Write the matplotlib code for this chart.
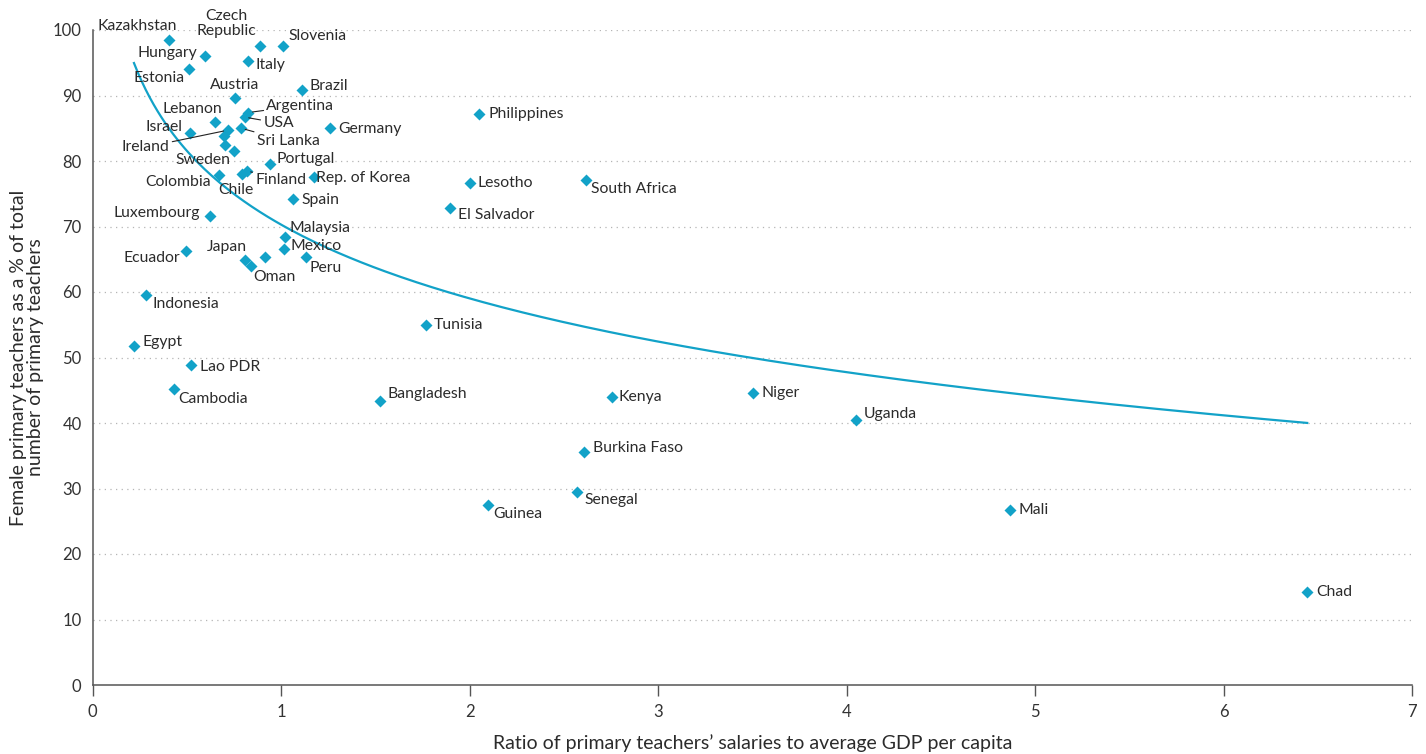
import numpy as np
import matplotlib
matplotlib.use("Agg")
import matplotlib.pyplot as plt

# ---------------- data ----------------
countries = ["Kazakhstan", "Czech\nRepublic", "Slovenia", "Hungary", "Estonia", "Italy",
             "Austria", "Brazil", "Lebanon", "Argentina", "USA", "Israel", "Sri Lanka",
             "Ireland", "Germany", "Sweden", "", "", "Portugal", "Colombia", "Chile",
             "Finland", "Rep. of Korea", "Spain", "Luxembourg", "Malaysia", "Mexico",
             "Ecuador", "", "Japan", "Peru", "Oman", "Indonesia", "Egypt", "Lao PDR",
             "Cambodia", "Bangladesh", "Philippines", "Lesotho", "South Africa",
             "El Salvador", "Tunisia", "Kenya", "Niger", "Uganda", "Burkina Faso",
             "Senegal", "Guinea", "Mali", "Chad"]
salary_ratio = [0.405, 0.889, 1.010, 0.595, 0.512, 0.824,
                0.753, 1.110, 0.647, 0.826, 0.806, 0.515, 0.788,
                0.716, 1.260, 0.750, 0.698, 0.700, 0.939, 0.668, 0.792,
                0.817, 1.172, 1.064, 0.622, 1.022, 1.013,
                0.495, 0.914, 0.808, 1.130, 0.841, 0.281, 0.219, 0.520,
                0.433, 1.524, 2.049, 2.002, 2.615,
                1.895, 1.768, 2.753, 3.501, 4.051, 2.606,
                2.571, 2.097, 4.866, 6.444]
female_pct = [98.4, 97.6, 97.5, 96.0, 94.0, 95.2,
              89.6, 90.8, 85.9, 87.4, 86.7, 84.2, 85.0,
              84.7, 85.0, 81.6, 83.8, 82.5, 79.6, 77.8, 78.0,
              78.5, 77.5, 74.2, 71.6, 68.4, 66.5,
              66.2, 65.3, 64.9, 65.3, 64.0, 59.5, 51.7, 48.9,
              45.2, 43.4, 87.2, 76.7, 77.1,
              72.8, 54.9, 43.9, 44.6, 40.5, 35.6,
              29.5, 27.5, 26.7, 14.2]
x_ticks = [0, 1, 2, 3, 4, 5, 6, 7]
y_ticks = [0, 10, 20, 30, 40, 50, 60, 70, 80, 90, 100]
x_title = "Ratio of primary teachers\u2019 salaries to average GDP per capita"
y_title = "Female primary teachers as a % of total\nnumber of primary teachers"

# ---------------- label placement (pixel offsets: dx right, dy up) ----------------
label_offsets = {
    "Kazakhstan": (-32, 14), "Czech\nRepublic": (-34, 22), "Slovenia": (34, 10),
    "Hungary": (-37, 3), "Estonia": (-30, -9), "Italy": (22, -4), "Austria": (0, 13),
    "Brazil": (27, 4), "Lebanon": (-22, 13), "Argentina": (52, 7), "USA": (34, -6),
    "Israel": (-26, 6), "Sri Lanka": (47, -13), "Ireland": (-82, -17),
    "Germany": (40, -1), "Sweden": (-31, -9), "Portugal": (36, 5),
    "Colombia": (-41, -7), "Chile": (-6, -16), "Finland": (34, -9),
    "Rep. of Korea": (50, -1), "Spain": (27, -1), "Luxembourg": (-53, 3),
    "Malaysia": (35, 9), "Mexico": (32, 3), "Ecuador": (-34, -7), "Japan": (-18, 13),
    "Peru": (20, -11), "Oman": (23, -11), "Indonesia": (40, -9), "Egypt": (29, 4),
    "Lao PDR": (39, -2), "Cambodia": (39, -10), "Bangladesh": (47, 7),
    "Philippines": (47, 0), "Lesotho": (35, 0), "South Africa": (48, -9),
    "El Salvador": (46, -7), "Tunisia": (33, 0), "Kenya": (29, 0), "Niger": (28, 0),
    "Uganda": (34, 6), "Burkina Faso": (54, 4), "Senegal": (34, -8),
    "Guinea": (30, -9), "Mali": (24, 0), "Chad": (27, 0),
}
leader_labels = {"Argentina", "USA", "Sri Lanka", "Ireland", "Finland"}

POINT_COLOR = "#12A2C8"
TEXT_COLOR = "#2b2b2b"
FONT = ["Lato", "DejaVu Sans"]

plt.rcParams["font.family"] = FONT

fig = plt.figure(figsize=(14.26, 7.54), dpi=100)
ax = fig.add_axes([92.7 / 1426, 1 - 685 / 754, (1412 - 92.7) / 1426, (685 - 30) / 754])

x = np.array(salary_ratio)
y = np.array(female_pct)

# logarithmic trend line fitted to the data
b, a = np.polyfit(np.log(x), y, 1)
xs = np.linspace(x.min(), x.max(), 300)
ax.plot(xs, a + b * np.log(xs), color=POINT_COLOR, lw=1.6, zorder=2)

ax.plot(x, y, ls="none", marker="D", ms=6.2, mfc=POINT_COLOR, mec="none", zorder=3)

for name, xi, yi in zip(countries, x, y):
    if not name:
        continue
    dx, dy = label_offsets[name]
    kw = {}
    if name in leader_labels:
        kw["arrowprops"] = dict(arrowstyle="-", color="#222222", lw=0.8,
                                shrinkA=0, shrinkB=3)
    ax.annotate(name, xy=(xi, yi), xytext=(dx, dy), textcoords="offset pixels",
                ha="center", va="center", multialignment="center",
                fontsize=11.3, color=TEXT_COLOR, linespacing=1.1,
                annotation_clip=False, zorder=4, **kw)

ax.set_xlim(0, 7)
ax.set_ylim(0, 100)
ax.set_xticks(x_ticks)
ax.set_yticks(y_ticks)
ax.tick_params(axis="x", length=8, width=1, color="#555555", pad=6,
               labelsize=12, labelcolor="#333333")
ax.tick_params(axis="y", length=0, pad=8, labelsize=12, labelcolor="#333333")

for s in ["top", "right"]:
    ax.spines[s].set_visible(False)
for s in ["left", "bottom"]:
    ax.spines[s].set_color("#555555")
    ax.spines[s].set_linewidth(1.1)

for yt in y_ticks[1:]:
    ax.axhline(yt, color="#b5b5b5", lw=0.9, ls=(0, (1, 3.5)), zorder=1)

ax.set_xlabel(x_title, fontsize=14, color=TEXT_COLOR, labelpad=10)
ax.set_ylabel(y_title, fontsize=14, color=TEXT_COLOR, labelpad=6, linespacing=1.0)

fig.savefig("out.png", dpi=100)
